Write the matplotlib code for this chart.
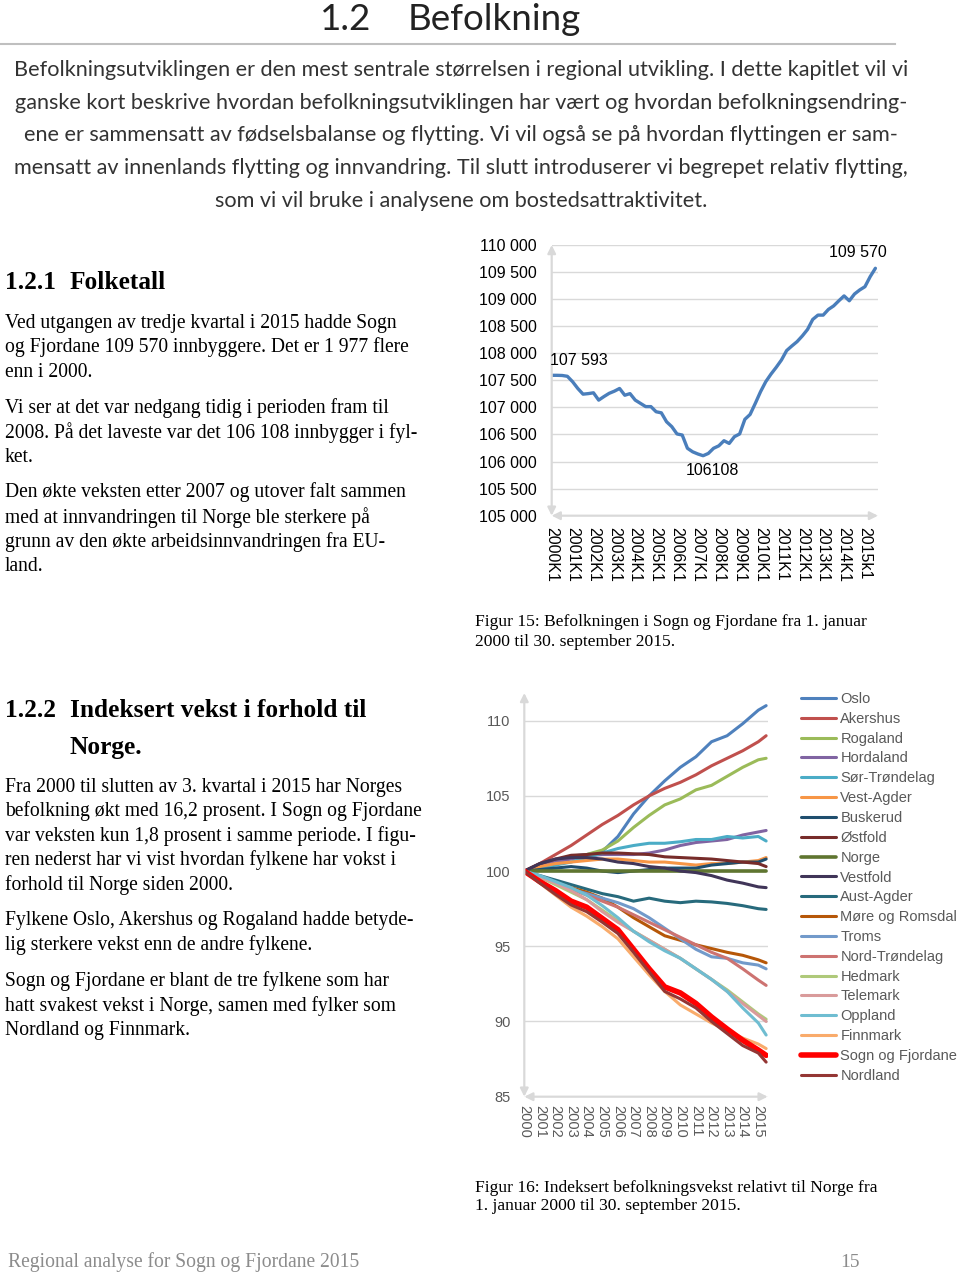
import matplotlib.pyplot as plt
from matplotlib.ticker import FuncFormatter
from matplotlib.lines import Line2D

# Figur 15: folketal Sogn og Fjordane, kvartalsvis 2000K1-2015K3
kvartal_labels = ['2000K1', '2001K1', '2002K1', '2003K1', '2004K1', '2005K1', '2006K1',
                  '2007K1', '2008K1', '2009K1', '2010K1', '2011K1', '2012K1', '2013K1',
                  '2014K1', '2015k1']
folketal = [107593, 107593, 107590, 107575, 107475, 107350, 107245, 107255, 107270, 107135,
            107200, 107260, 107300, 107350, 107225, 107255, 107135, 107075, 107015, 107015,
            106920, 106900, 106735, 106645, 106510, 106490, 106245, 106180, 106140, 106108,
            106150, 106245, 106290, 106385, 106335, 106460, 106510, 106780, 106870, 107075,
            107290, 107475, 107615, 107740, 107875, 108050, 108135, 108215, 108320, 108440,
            108625, 108705, 108705, 108810, 108875, 108970, 109060, 108970, 109095, 109170,
            109230, 109415, 109570]

# Figur 16: indeksert vekst relativt til Norge (2000 = 100)
aar = [2000, 2001, 2002, 2003, 2004, 2005, 2006, 2007, 2008, 2009, 2010, 2011, 2012,
       2013, 2014, 2015, 2015.5]
aar_labels = ['2000', '2001', '2002', '2003', '2004', '2005', '2006', '2007', '2008',
              '2009', '2010', '2011', '2012', '2013', '2014', '2015']

oslo = [100, 100.4, 100.7, 101.0, 101.1, 101.3, 102.3, 103.8, 105.0, 106.0, 106.9, 107.6, 108.6, 109.0, 109.8, 110.7, 111.0]
akershus = [100, 100.5, 101.1, 101.7, 102.4, 103.1, 103.7, 104.4, 105.0, 105.5, 105.9, 106.4, 107.0, 107.5, 108.0, 108.6, 109.0]
rogaland = [100, 100.3, 100.6, 100.9, 101.1, 101.4, 102.0, 102.9, 103.7, 104.4, 104.8, 105.4, 105.7, 106.3, 106.9, 107.4, 107.5]
hordaland = [100, 100.3, 100.6, 100.8, 101.0, 101.1, 101.1, 101.1, 101.2, 101.4, 101.7, 101.9, 102.0, 102.1, 102.4, 102.6, 102.7]
sor_trondelag = [100, 100.2, 100.4, 100.6, 100.9, 101.2, 101.5, 101.7, 101.85, 101.85, 101.95, 102.1, 102.1, 102.3, 102.2, 102.3, 102.0]
vest_agder = [100, 100.3, 100.5, 100.6, 100.7, 100.8, 100.8, 100.7, 100.6, 100.6, 100.5, 100.4, 100.5, 100.5, 100.6, 100.7, 100.9]
buskerud = [100, 100.1, 100.2, 100.3, 100.2, 100.0, 99.9, 100.0, 100.1, 100.2, 100.2, 100.2, 100.4, 100.5, 100.6, 100.6, 100.8]
ostfold = [100, 100.5, 100.8, 101.05, 101.1, 101.2, 101.2, 101.15, 101.1, 100.95, 100.9, 100.85, 100.8, 100.7, 100.6, 100.5, 100.3]
norge = [100, 100, 100, 100, 100, 100, 100, 100, 100, 100, 100, 100, 100, 100, 100, 100, 100]
vestfold = [100, 100.5, 100.8, 100.9, 100.9, 100.8, 100.6, 100.5, 100.3, 100.2, 100.0, 99.9, 99.7, 99.4, 99.2, 98.95, 98.9]
aust_agder = [100, 99.7, 99.4, 99.1, 98.8, 98.5, 98.3, 98.0, 98.2, 98.0, 97.9, 98.0, 97.95, 97.85, 97.7, 97.5, 97.45]
more_romsdal = [100, 99.6, 99.2, 98.9, 98.6, 98.2, 97.6, 96.9, 96.3, 95.7, 95.4, 95.1, 94.85, 94.6, 94.4, 94.1, 93.9]
troms = [100, 99.6, 99.2, 98.8, 98.5, 98.2, 97.9, 97.5, 96.9, 96.2, 95.5, 94.8, 94.3, 94.2, 93.9, 93.75, 93.5]
nord_trondelag = [100, 99.6, 99.2, 98.8, 98.4, 98.0, 97.6, 97.1, 96.6, 96.1, 95.6, 95.1, 94.6, 94.2, 93.5, 92.75, 92.4]
hedmark = [100, 99.6, 99.1, 98.6, 98.1, 97.4, 96.7, 96.0, 95.4, 94.8, 94.2, 93.5, 92.8, 92.1, 91.3, 90.5, 90.15]
telemark = [100, 99.6, 99.2, 98.7, 98.1, 97.3, 96.6, 96.0, 95.4, 94.8, 94.2, 93.5, 92.8, 92.0, 91.2, 90.4, 90.0]
oppland = [100, 99.7, 99.3, 98.9, 98.4, 97.7, 96.9, 96.0, 95.3, 94.7, 94.2, 93.5, 92.8, 92.0, 90.9, 89.9, 89.1]
finnmark = [100, 99.2, 98.4, 97.6, 97.0, 96.3, 95.5, 94.3, 93.1, 92.0, 91.1, 90.5, 89.9, 89.4, 88.9, 88.5, 88.2]
sogn_fjordane = [100, 99.3, 98.7, 98.0, 97.6, 96.85, 96.1, 94.8, 93.5, 92.3, 91.9, 91.2, 90.3, 89.5, 88.75, 88.1, 87.75]
nordland = [100, 99.2, 98.45, 97.75, 97.3, 96.6, 95.85, 94.6, 93.3, 92.0, 91.5, 90.9, 90.0, 89.2, 88.4, 87.9, 87.3]

fylke = ['Oslo', 'Akershus', 'Rogaland', 'Hordaland', 'Sør-Trøndelag', 'Vest-Agder',
         'Buskerud', 'Østfold', 'Norge', 'Vestfold', 'Aust-Agder', 'Møre og Romsdal',
         'Troms', 'Nord-Trøndelag', 'Hedmark', 'Telemark', 'Oppland', 'Finnmark',
         'Sogn og Fjordane', 'Nordland']
serier = [oslo, akershus, rogaland, hordaland, sor_trondelag, vest_agder, buskerud, ostfold,
          norge, vestfold, aust_agder, more_romsdal, troms, nord_trondelag, hedmark,
          telemark, oppland, finnmark, sogn_fjordane, nordland]
farger = ['#4F81BD', '#C0504D', '#9BBB59', '#8064A2', '#4BACC6', '#F79646',
          '#1F4E6E', '#772C2A', '#5F7530', '#403558', '#276A7C', '#B65708',
          '#729ACA', '#CD7371', '#AFC97A', '#D99B9B', '#6FBDD1', '#F9AB6B',
          '#FF0000', '#943634']

W, H = 960, 1272
fig = plt.figure(figsize=(W / 100, H / 100), dpi=100)


def fx(x):
    return x / W


def fy(y):
    return 1 - y / H


def axes_px(left, top, right, bottom):
    return [fx(left), fy(bottom), (right - left) / W, (bottom - top) / H]


SANS = ['Liberation Sans', 'DejaVu Sans']
SERIF = ['Liberation Serif', 'DejaVu Serif']
LIGHT = ['Lato', 'Open Sans', 'DejaVu Sans']
GREY = '#595959'
GRID = '#D9D9D9'
DY = 2.5  # serif text sits a little lower than its centre

# ---- page text ----
fig.text(fx(320), fy(20), '1.2', family=LIGHT, fontsize=26.5, va='center', color='#222222')
fig.text(fx(408), fy(20), 'Befolkning', family=LIGHT, fontsize=26.5, va='center', color='#222222')
fig.add_artist(Line2D([0, fx(895)], [fy(44), fy(44)], color='#BFBFBF', lw=1.5))

intro = ['Befolkningsutviklingen er den mest sentrale størrelsen i regional utvikling. I dette kapitlet vil vi',
         'ganske kort beskrive hvordan befolkningsutviklingen har vært og hvordan befolkningsendring-',
         'ene er sammensatt av fødselsbalanse og flytting. Vi vil også se på hvordan flyttingen er sam-',
         'mensatt av innenlands flytting og innvandring. Til slutt introduserer vi begrepet relativ flytting,',
         'som vi vil bruke i analysene om bostedsattraktivitet.']
for i, line in enumerate(intro):
    fig.text(fx(461), fy(70 + i * 32.7), line, family=LIGHT,
             fontsize=15.6, ha='center', va='center', color='#333333')

fig.text(fx(5), fy(280 + DY), '1.2.1', family=SERIF, fontweight='bold', fontsize=18.3, va='center')
fig.text(fx(70), fy(280 + DY), 'Folketall', family=SERIF, fontweight='bold', fontsize=18.3, va='center')

body1 = [(321, 'Ved utgangen av tredje kvartal i 2015 hadde Sogn'),
         (345, 'og Fjordane 109 570 innbyggere. Det er 1 977 flere'),
         (370, 'enn i 2000.'),
         (406, 'Vi ser at det var nedgang tidig i perioden fram til'),
         (430, '2008. På det laveste var det 106 108 innbygger i fyl-'),
         (455, 'ket.'),
         (490, 'Den økte veksten etter 2007 og utover falt sammen'),
         (515, 'med at innvandringen til Norge ble sterkere på'),
         (540, 'grunn av den økte arbeidsinnvandringen fra EU-'),
         (564, 'land.')]
for y, line in body1:
    fig.text(fx(5), fy(y + DY), line, family=SERIF, fontsize=14.1, va='center')

fig.text(fx(475), fy(620 + DY), 'Figur 15: Befolkningen i Sogn og Fjordane fra 1. januar',
         family=SERIF, fontsize=12.6, va='center')
fig.text(fx(475), fy(640 + DY), '2000 til 30. september 2015.', family=SERIF, fontsize=12.6,
         va='center')

fig.text(fx(5), fy(708 + DY), '1.2.2', family=SERIF, fontweight='bold', fontsize=18.3, va='center')
fig.text(fx(70), fy(708 + DY), 'Indeksert vekst i forhold til', family=SERIF, fontweight='bold',
         fontsize=18.3, va='center')
fig.text(fx(70), fy(745 + DY), 'Norge.', family=SERIF, fontweight='bold', fontsize=18.3, va='center')

body2 = [(785, 'Fra 2000 til slutten av 3. kvartal i 2015 har Norges'),
         (809, 'befolkning økt med 16,2 prosent. I Sogn og Fjordane'),
         (834, 'var veksten kun 1,8 prosent i samme periode. I figu-'),
         (858, 'ren nederst har vi vist hvordan fylkene har vokst i'),
         (883, 'forhold til Norge siden 2000.'),
         (918, 'Fylkene Oslo, Akershus og Rogaland hadde betyde-'),
         (943, 'lig sterkere vekst enn de andre fylkene.'),
         (979, 'Sogn og Fjordane er blant de tre fylkene som har'),
         (1004, 'hatt svakest vekst i Norge, samen med fylker som'),
         (1028, 'Nordland og Finnmark.')]
for y, line in body2:
    fig.text(fx(5), fy(y + DY), line, family=SERIF, fontsize=14.1, va='center')

fig.text(fx(475), fy(1185 + DY), 'Figur 16: Indeksert befolkningsvekst relativt til Norge fra',
         family=SERIF, fontsize=12.6, va='center')
fig.text(fx(475), fy(1204 + DY), '1. januar 2000 til 30. september 2015.', family=SERIF,
         fontsize=12.6, va='center')

fig.text(fx(8), fy(1260 + DY), 'Regional analyse for Sogn og Fjordane 2015', family=SERIF,
         fontsize=14.1, va='center', color='#8C8C8C')
fig.text(fx(860), fy(1260 + DY), '15', family=SERIF, fontsize=14, va='center', ha='right',
         color='#8C8C8C')


def axis_arrows(ax):
    for spine in ax.spines.values():
        spine.set_visible(False)
    style = dict(arrowstyle='<|-|>', color=GRID, lw=1.6, shrinkA=0, shrinkB=0,
                 mutation_scale=12)
    ax.annotate('', xy=(0, 1), xytext=(0, 0), xycoords='axes fraction', arrowprops=style)
    ax.annotate('', xy=(1, 0), xytext=(0, 0), xycoords='axes fraction', arrowprops=style)


# ---- Figur 15 ----
ax1 = fig.add_axes(axes_px(551.7, 245, 878, 515.7))
kv = list(range(len(folketal)))
ax1.plot(kv, folketal, color='#4A7EBB', lw=2.4, solid_capstyle='round', zorder=3)
ax1.set_xlim(0, 62.5)
ax1.set_ylim(105000, 110000)
ax1.set_yticks(range(105000, 110001, 500))
ax1.yaxis.set_major_formatter(FuncFormatter(lambda v, p: f'{int(v):,}'.replace(',', ' ')))
ax1.set_xticks(kv[::4])
ax1.set_xticklabels(kvartal_labels, rotation=270)
ax1.grid(axis='y', color=GRID, lw=1)
ax1.set_axisbelow(True)
ax1.tick_params(axis='y', length=0, pad=11, labelsize=11.5)
ax1.tick_params(axis='x', length=0, pad=8, labelsize=11.5)
for lab in ax1.get_xticklabels() + ax1.get_yticklabels():
    lab.set_family(SANS)
axis_arrows(ax1)

imin = folketal.index(min(folketal))
ax1.annotate('107 593', xy=(kv[0], folketal[0]), xytext=(27, 15), textcoords='offset pixels',
             ha='center', va='center', fontsize=11.5, family=SANS)
ax1.annotate(str(folketal[imin]), xy=(kv[imin], folketal[imin]), xytext=(9, -15),
             textcoords='offset pixels', ha='center', va='center', fontsize=11.5, family=SANS)
ax1.annotate('109 570', xy=(kv[-1], folketal[-1]), xytext=(-18, 16), textcoords='offset pixels',
             ha='center', va='center', fontsize=11.5, family=SANS)

# ---- Figur 16 ----
ax2 = fig.add_axes(axes_px(524.3, 693, 767.7, 1096.7))
for navn, verdi, farge in zip(fylke, serier, farger):
    lw = 4.0 if navn == 'Sogn og Fjordane' else (2.6 if navn == 'Norge' else 2.2)
    ax2.plot(aar, verdi, color=farge, lw=lw, label=navn, solid_capstyle='round')
ax2.set_xlim(2000, 2015.6)
ax2.set_ylim(85, 111.84)
ax2.set_yticks([85, 90, 95, 100, 105, 110])
ax2.set_xticks(aar[:16])
ax2.set_xticklabels(aar_labels, rotation=270)
ax2.grid(axis='y', color=GRID, lw=1)
ax2.set_axisbelow(True)
ax2.tick_params(axis='y', length=0, pad=10, labelsize=10.5, labelcolor=GREY)
ax2.tick_params(axis='x', length=0, pad=6, labelsize=10.5, labelcolor=GREY)
for lab in ax2.get_xticklabels() + ax2.get_yticklabels():
    lab.set_family(SANS)
axis_arrows(ax2)

leg = fig.legend(*ax2.get_legend_handles_labels(), loc='upper left',
                 bbox_to_anchor=(fx(801), fy(692)), bbox_transform=fig.transFigure,
                 frameon=False, handlelength=2.4, handletextpad=0.3, labelspacing=0.40,
                 borderpad=0, borderaxespad=0, prop={'family': SANS, 'size': 10.5},
                 labelcolor=GREY)

fig.savefig('out.png', dpi=100)
